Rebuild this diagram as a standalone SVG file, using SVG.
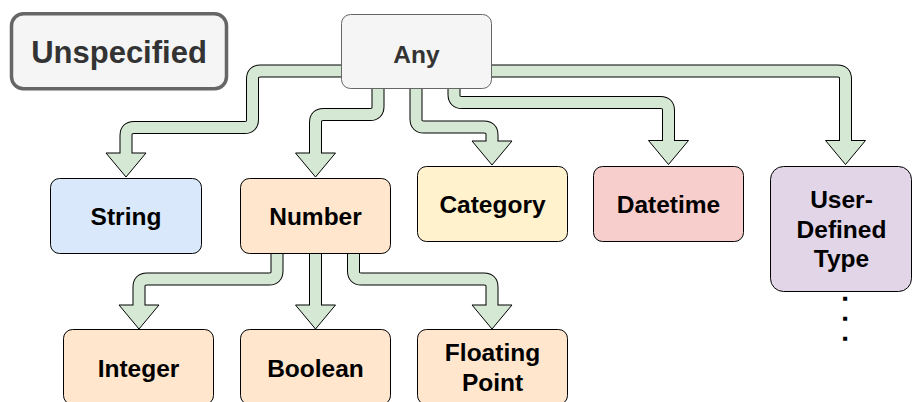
<svg xmlns="http://www.w3.org/2000/svg" width="913" height="402" viewBox="0 0 913 402">
<defs>
<style>
.lbl{font-family:"Liberation Sans",Arial,Helvetica,sans-serif;font-weight:bold;font-size:24.5px;text-anchor:middle;fill:#000}
.gray{fill:#333333}
.dot{font-size:17px;stroke:#000;stroke-width:1.6;stroke-linejoin:miter}
.box{stroke:#000;stroke-width:1}
.edgeOut{fill:none;stroke:#000;stroke-width:13;stroke-linejoin:round}
.edgeIn{fill:none;stroke:#d5e8d4;stroke-width:11;stroke-linejoin:round}
.head{fill:#d5e8d4;stroke:#000;stroke-width:1;stroke-linejoin:miter}
</style>
</defs>
<rect width="913" height="402" fill="#ffffff"/>
<g id="connectors">
  <g id="e-string">
    <path class="edgeOut" d="M341,71 H260.5 Q252.5,71 252.5,79 V119.5 Q252.5,127.5 244.5,127.5 H134 Q126,127.5 126,135.5 V153"/>
    <polygon class="head" points="106,153 146,153 126,177"/>
    <path class="edgeIn" d="M341,71 H260.5 Q252.5,71 252.5,79 V119.5 Q252.5,127.5 244.5,127.5 H134 Q126,127.5 126,135.5 V154"/>
  </g>
  <g id="e-number">
    <path class="edgeOut" d="M378,89 V106.5 Q378,114.5 370,114.5 H323.5 Q315.5,114.5 315.5,122.5 V153"/>
    <polygon class="head" points="295.5,153 335.5,153 315.5,177"/>
    <path class="edgeIn" d="M378,89 V106.5 Q378,114.5 370,114.5 H323.5 Q315.5,114.5 315.5,122.5 V154"/>
  </g>
  <g id="e-category">
    <path class="edgeOut" d="M416,89 V119 Q416,127 424,127 H484 Q492,127 492,135 V141"/>
    <polygon class="head" points="472,141 512,141 492,165"/>
    <path class="edgeIn" d="M416,89 V119 Q416,127 424,127 H484 Q492,127 492,135 V142"/>
  </g>
  <g id="e-datetime">
    <path class="edgeOut" d="M454,89 V94.5 Q454,102.5 462,102.5 H660.5 Q668.5,102.5 668.5,110.5 V140.5"/>
    <polygon class="head" points="648.5,140.5 688.5,140.5 668.5,164.5"/>
    <path class="edgeIn" d="M454,89 V94.5 Q454,102.5 462,102.5 H660.5 Q668.5,102.5 668.5,110.5 V141.5"/>
  </g>
  <g id="e-user">
    <path class="edgeOut" d="M492,71 H837.5 Q845.5,71 845.5,79 V140.5"/>
    <polygon class="head" points="825.5,140.5 865.5,140.5 845.5,164.5"/>
    <path class="edgeIn" d="M492,71 H837.5 Q845.5,71 845.5,79 V141.5"/>
  </g>
  <g id="e-integer">
    <path class="edgeOut" d="M277,254 V271 Q277,279 269,279 H147 Q139,279 139,287 V305"/>
    <polygon class="head" points="119,305 159,305 139,329"/>
    <path class="edgeIn" d="M277,254 V271 Q277,279 269,279 H147 Q139,279 139,287 V306"/>
  </g>
  <g id="e-boolean">
    <path class="edgeOut" d="M315.5,254 V305"/>
    <polygon class="head" points="295.5,305 335.5,305 315.5,329"/>
    <path class="edgeIn" d="M315.5,254 V306"/>
  </g>
  <g id="e-floating">
    <path class="edgeOut" d="M353.5,254 V271 Q353.5,279 361.5,279 H484 Q492,279 492,287 V305"/>
    <polygon class="head" points="472,305 512,305 492,329"/>
    <path class="edgeIn" d="M353.5,254 V271 Q353.5,279 361.5,279 H484 Q492,279 492,287 V306"/>
  </g>
</g>

<g id="unspecified">
  <rect x="11.5" y="13.8" width="215" height="75" rx="12" fill="#f5f5f5" stroke="#666666" stroke-width="3.5"/>
  <text class="lbl gray" x="119" y="63" style="font-size:31px">Unspecified</text>
</g>
<g id="any">
  <rect x="341.5" y="14.5" width="150" height="74" rx="9" fill="#f5f5f5" stroke="#666666" stroke-width="1"/>
  <text class="lbl gray" x="416.5" y="62.5">Any</text>
</g>
<g id="string">
  <rect class="box" x="50.5" y="178.5" width="151" height="75" rx="9" fill="#dae8fc"/>
  <text class="lbl" x="126" y="225">String</text>
</g>
<g id="number">
  <rect class="box" x="240.5" y="178.5" width="150" height="75" rx="9" fill="#ffe6cc"/>
  <text class="lbl" x="315.5" y="225">Number</text>
</g>
<g id="category">
  <rect class="box" x="417.5" y="166.5" width="150" height="75" rx="9" fill="#fff2cc"/>
  <text class="lbl" x="492.5" y="212.5">Category</text>
</g>
<g id="datetime">
  <rect class="box" x="593.5" y="166.5" width="150" height="75" rx="9" fill="#f8cecc"/>
  <text class="lbl" x="668.5" y="212.5">Datetime</text>
</g>
<g id="userdefined">
  <rect class="box" x="770.5" y="166.5" width="141" height="125" rx="13" fill="#e1d5e7"/>
  <text class="lbl" x="841.5" y="208">User-</text>
  <text class="lbl" x="841.5" y="237.5">Defined</text>
  <text class="lbl" x="841.5" y="267">Type</text>
</g>
<g id="dots">
  <text class="lbl dot" x="845" y="300.2">.</text>
  <text class="lbl dot" x="845" y="320.2">.</text>
  <text class="lbl dot" x="845" y="340.2">.</text>
</g>
<g id="integer">
  <rect class="box" x="63.5" y="329.5" width="150" height="75" rx="9" fill="#ffe6cc"/>
  <text class="lbl" x="138.5" y="377">Integer</text>
</g>
<g id="boolean">
  <rect class="box" x="240.5" y="329.5" width="150" height="75" rx="9" fill="#ffe6cc"/>
  <text class="lbl" x="315.5" y="377">Boolean</text>
</g>
<g id="floating">
  <rect class="box" x="417.5" y="329.5" width="150" height="75" rx="9" fill="#ffe6cc"/>
  <text class="lbl" x="492.5" y="361">Floating</text>
  <text class="lbl" x="492.5" y="390.5">Point</text>
</g>
</svg>
